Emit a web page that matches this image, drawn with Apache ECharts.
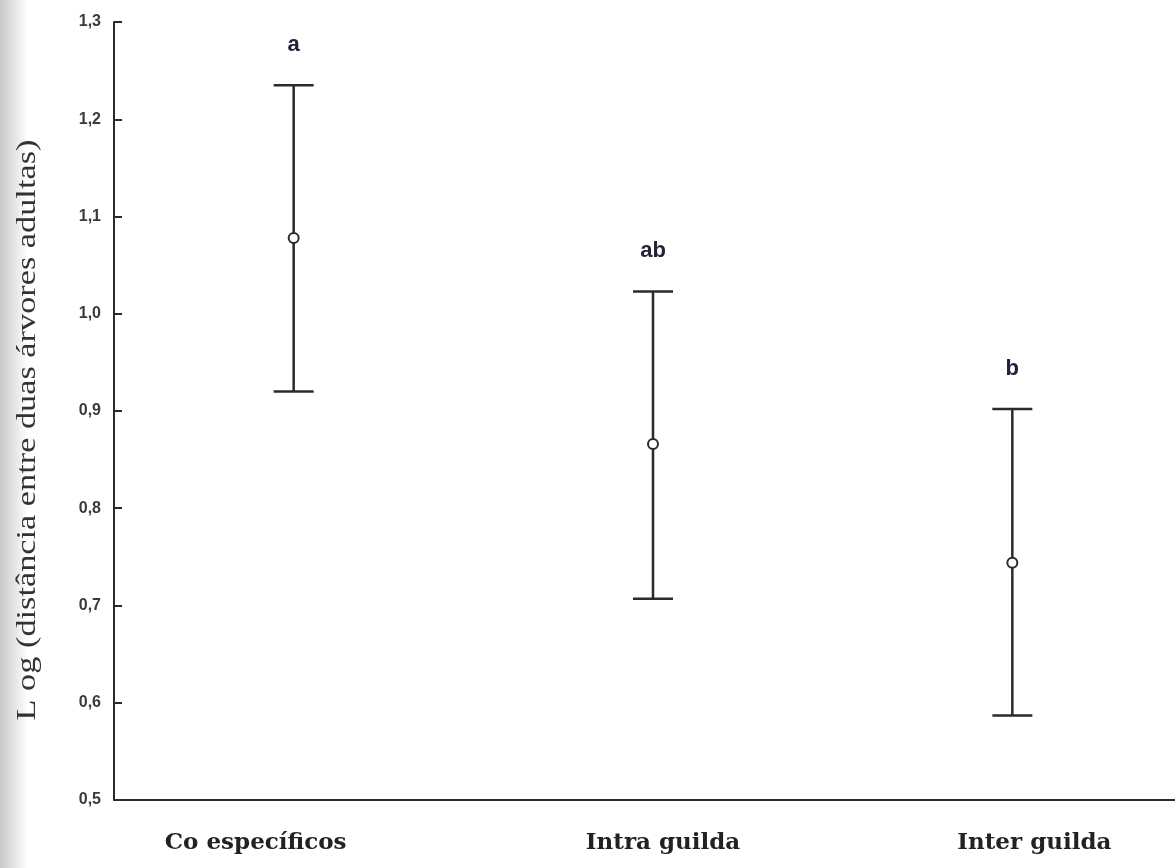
<!DOCTYPE html>
<html><head><meta charset="utf-8">
<script src="https://cdn.jsdelivr.net/npm/echarts@6/dist/echarts.min.js"></script>
<style>html,body{margin:0;padding:0;background:#fff}#c{width:1175px;height:868px}</style>
</head><body><div id="c"></div>
<script>
const categories = ['Co específicos', 'Intra guilda', 'Inter guilda'];
const lower = [0.920, 0.707, 0.587];
const means = [1.078, 0.866, 0.744];
const upper = [1.235, 1.023, 0.902];
const letters = ['a', 'ab', 'b'];
const yTicks = { min: 0.5, max: 1.3, interval: 0.1 };
const yTitle = 'L og (distância entre duas árvores adultas)';

const chart = echarts.init(document.getElementById('c'));
const data = categories.map((c, i) => [i, lower[i], means[i], upper[i]]);
const ink = '#2b2b2b';
const labelFont = { fontFamily: 'DejaVu Serif', fontSize: 23, fontWeight: 'bold', color: '#222' };

chart.setOption({
  animation: false,
  backgroundColor: '#fff',
  graphic: [{
    type: 'rect', left: 0, top: 0, shape: { width: 28, height: 868 }, z: -10, silent: true,
    style: { fill: new echarts.graphic.LinearGradient(0, 0, 1, 0, [
      { offset: 0, color: '#c8c8c8' }, { offset: 1, color: '#ffffff' }]) }
  }, {
    type: 'text', x: 28, y: 430, rotation: Math.PI / 2, scaleX: 1.27, scaleY: 1,
    style: { text: yTitle, align: 'center', verticalAlign: 'middle',
      fontFamily: 'Liberation Serif', fontSize: 27, fill: '#333' }
  }],
  grid: { left: 114, top: 22, bottom: 68, width: 1078, outerBoundsMode: 'none', containLabel: false },
  xAxis: {
    type: 'category', data: categories,
    axisLine: { lineStyle: { color: ink, width: 2 } },
    axisTick: { inside: true, alignWithLabel: true, length: 7, lineStyle: { color: ink, width: 2 } },
    axisLabel: {
      margin: 32,
      formatter: (v, i) => '{l' + i + '|' + v + '}',
      rich: {
        l0: Object.assign({ padding: [0, 76, 0, 0] }, labelFont),
        l1: Object.assign({ padding: [0, 0, 0, 20] }, labelFont),
        l2: Object.assign({ padding: [0, 0, 0, 44] }, labelFont)
      }
    }
  },
  yAxis: {
    type: 'value', min: yTicks.min, max: yTicks.max, interval: yTicks.interval,
    axisLine: { show: true, lineStyle: { color: ink, width: 2 } },
    axisTick: { show: true, inside: true, length: 8, lineStyle: { color: ink, width: 2 } },
    splitLine: { show: false },
    axisLabel: { margin: 13, fontFamily: 'Liberation Sans', fontSize: 16, fontWeight: 'bold', color: '#3a3a3a',
      formatter: v => v.toFixed(1).replace('.', ',') }
  },
  series: [{
    type: 'custom',
    data: data,
    renderItem: function (params, api) {
      const x = api.value(0);
      const lo = api.coord([x, api.value(1)]);
      const mid = api.coord([x, api.value(2)]);
      const hi = api.coord([x, api.value(3)]);
      const half = 20;
      const ls = { stroke: ink, lineWidth: 2.5 };
      return {
        type: 'group',
        children: [
          { type: 'line', shape: { x1: hi[0], y1: hi[1], x2: lo[0], y2: lo[1] }, style: ls },
          { type: 'line', shape: { x1: hi[0] - half, y1: hi[1], x2: hi[0] + half, y2: hi[1] }, style: ls },
          { type: 'line', shape: { x1: lo[0] - half, y1: lo[1], x2: lo[0] + half, y2: lo[1] }, style: ls },
          { type: 'circle', shape: { cx: mid[0], cy: mid[1], r: 5 }, style: { fill: '#fff', stroke: ink, lineWidth: 2 } },
          { type: 'text', style: { text: letters[params.dataIndex], x: hi[0], y: hi[1] - 40,
              align: 'center', verticalAlign: 'middle', fontFamily: 'Liberation Sans', fontSize: 22,
              fontWeight: 'bold', fill: '#22223a' } }
        ]
      };
    }
  }]
});
</script></body></html>
